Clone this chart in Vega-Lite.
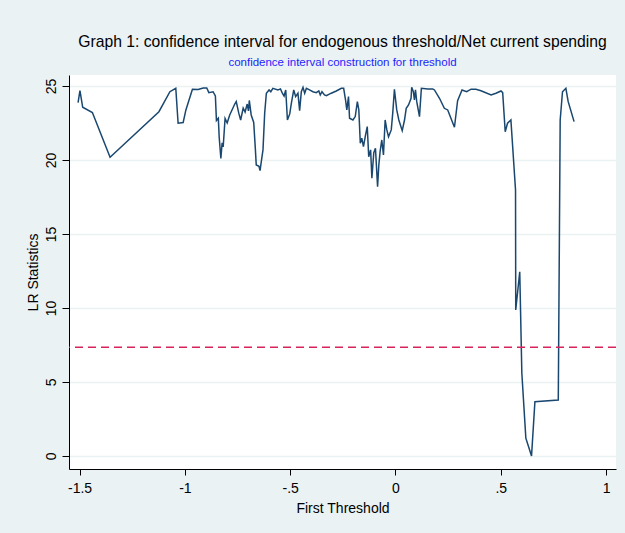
{
  "$schema": "https://vega.github.io/schema/vega-lite/v6.json",
  "width": 547,
  "height": 394,
  "autosize": {"type": "none"},
  "padding": {"left": 69, "top": 75, "right": 9, "bottom": 64},
  "background": "#EAF2F3",
  "config": {
    "view": {"fill": "white", "stroke": null},
    "font": "Liberation Sans",
    "axisY": {"labelAngle": -90, "labelAlign": "center", "labelBaseline": "bottom"}
  },
  "title": {
    "text": "Graph 1: confidence interval for endogenous threshold/Net current spending",
    "subtitle": "confidence interval construction for threshold",
    "fontSize": 15.7,
    "fontWeight": "normal",
    "font": "Liberation Sans",
    "color": "#000000",
    "subtitleColor": "#1E1EFF",
    "subtitleFontSize": 11.5,
    "subtitleFont": "Liberation Sans",
    "anchor": "middle",
    "offset": 6,
    "subtitlePadding": 6
  },
  "datasets": {
    "lr": [
      {"threshold": -1.507, "lr": 23.87}, {"threshold": -1.498, "lr": 24.68}, {"threshold": -1.485, "lr": 23.56},
      {"threshold": -1.439, "lr": 23.2}, {"threshold": -1.355, "lr": 20.18}, {"threshold": -1.123, "lr": 23.26},
      {"threshold": -1.071, "lr": 24.61}, {"threshold": -1.043, "lr": 24.84}, {"threshold": -1.032, "lr": 22.48},
      {"threshold": -1.008, "lr": 22.53}, {"threshold": -0.995, "lr": 23.38}, {"threshold": -0.964, "lr": 24.78},
      {"threshold": -0.937, "lr": 24.76}, {"threshold": -0.913, "lr": 24.86}, {"threshold": -0.896, "lr": 24.86},
      {"threshold": -0.886, "lr": 24.55}, {"threshold": -0.866, "lr": 24.61}, {"threshold": -0.855, "lr": 24.32},
      {"threshold": -0.85, "lr": 22.67}, {"threshold": -0.841, "lr": 22.82}, {"threshold": -0.837, "lr": 21.55},
      {"threshold": -0.829, "lr": 20.11}, {"threshold": -0.823, "lr": 21.15}, {"threshold": -0.818, "lr": 20.88},
      {"threshold": -0.809, "lr": 22.8}, {"threshold": -0.799, "lr": 22.5}, {"threshold": -0.787, "lr": 23.04},
      {"threshold": -0.763, "lr": 23.78}, {"threshold": -0.756, "lr": 23.95}, {"threshold": -0.744, "lr": 23.16},
      {"threshold": -0.735, "lr": 22.7}, {"threshold": -0.723, "lr": 23.51}, {"threshold": -0.714, "lr": 23.24},
      {"threshold": -0.704, "lr": 23.78}, {"threshold": -0.698, "lr": 23.31}, {"threshold": -0.694, "lr": 24.02},
      {"threshold": -0.685, "lr": 23.04}, {"threshold": -0.673, "lr": 22.53}, {"threshold": -0.665, "lr": 20.68},
      {"threshold": -0.661, "lr": 19.66}, {"threshold": -0.648, "lr": 19.57}, {"threshold": -0.643, "lr": 19.28},
      {"threshold": -0.637, "lr": 19.89}, {"threshold": -0.629, "lr": 20.68}, {"threshold": -0.621, "lr": 23.16},
      {"threshold": -0.613, "lr": 24.51}, {"threshold": -0.6, "lr": 24.73}, {"threshold": -0.592, "lr": 24.61},
      {"threshold": -0.582, "lr": 24.84}, {"threshold": -0.558, "lr": 24.73}, {"threshold": -0.546, "lr": 24.8},
      {"threshold": -0.537, "lr": 24.51}, {"threshold": -0.529, "lr": 24.32}, {"threshold": -0.521, "lr": 24.73},
      {"threshold": -0.513, "lr": 22.7}, {"threshold": -0.502, "lr": 23.11}, {"threshold": -0.494, "lr": 23.85},
      {"threshold": -0.483, "lr": 24.73}, {"threshold": -0.474, "lr": 24.28}, {"threshold": -0.463, "lr": 24.51},
      {"threshold": -0.455, "lr": 23.33}, {"threshold": -0.447, "lr": 24.61}, {"threshold": -0.439, "lr": 24.91},
      {"threshold": -0.431, "lr": 24.51}, {"threshold": -0.423, "lr": 24.84}, {"threshold": -0.408, "lr": 24.73},
      {"threshold": -0.392, "lr": 24.61}, {"threshold": -0.376, "lr": 24.55}, {"threshold": -0.364, "lr": 24.66},
      {"threshold": -0.357, "lr": 24.39}, {"threshold": -0.349, "lr": 24.61}, {"threshold": -0.337, "lr": 24.39},
      {"threshold": -0.328, "lr": 24.34}, {"threshold": -0.305, "lr": 24.51}, {"threshold": -0.281, "lr": 24.66},
      {"threshold": -0.257, "lr": 24.84}, {"threshold": -0.246, "lr": 24.84}, {"threshold": -0.237, "lr": 24.05},
      {"threshold": -0.231, "lr": 23.38}, {"threshold": -0.223, "lr": 24.28}, {"threshold": -0.218, "lr": 22.82},
      {"threshold": -0.202, "lr": 22.7}, {"threshold": -0.191, "lr": 22.93}, {"threshold": -0.181, "lr": 23.94},
      {"threshold": -0.174, "lr": 23.38}, {"threshold": -0.167, "lr": 21.13}, {"threshold": -0.16, "lr": 21.47},
      {"threshold": -0.152, "lr": 20.9}, {"threshold": -0.142, "lr": 21.69}, {"threshold": -0.134, "lr": 22.25},
      {"threshold": -0.127, "lr": 20.22}, {"threshold": -0.118, "lr": 20.68}, {"threshold": -0.112, "lr": 18.76},
      {"threshold": -0.103, "lr": 20.49}, {"threshold": -0.095, "lr": 20.79}, {"threshold": -0.085, "lr": 18.2},
      {"threshold": -0.079, "lr": 19.66}, {"threshold": -0.073, "lr": 20.56}, {"threshold": -0.065, "lr": 21.35},
      {"threshold": -0.057, "lr": 20.34}, {"threshold": -0.049, "lr": 22.7}, {"threshold": -0.041, "lr": 22.03},
      {"threshold": -0.033, "lr": 21.57}, {"threshold": -0.02, "lr": 22.03}, {"threshold": -0.013, "lr": 23.16},
      {"threshold": -0.005, "lr": 24.78}, {"threshold": 0.006, "lr": 23.38}, {"threshold": 0.016, "lr": 22.7},
      {"threshold": 0.032, "lr": 21.98}, {"threshold": 0.043, "lr": 22.7}, {"threshold": 0.051, "lr": 23.49},
      {"threshold": 0.062, "lr": 23.72}, {"threshold": 0.074, "lr": 24.17}, {"threshold": 0.077, "lr": 24.91},
      {"threshold": 0.085, "lr": 24.61}, {"threshold": 0.09, "lr": 24.05}, {"threshold": 0.095, "lr": 24.73},
      {"threshold": 0.101, "lr": 23.94}, {"threshold": 0.114, "lr": 22.93}, {"threshold": 0.123, "lr": 24.84},
      {"threshold": 0.153, "lr": 24.8}, {"threshold": 0.177, "lr": 24.8}, {"threshold": 0.185, "lr": 24.73},
      {"threshold": 0.209, "lr": 24.17}, {"threshold": 0.232, "lr": 23.49}, {"threshold": 0.248, "lr": 23.38},
      {"threshold": 0.28, "lr": 22.21}, {"threshold": 0.295, "lr": 24.01}, {"threshold": 0.316, "lr": 24.73},
      {"threshold": 0.338, "lr": 24.61}, {"threshold": 0.359, "lr": 24.78}, {"threshold": 0.382, "lr": 24.78},
      {"threshold": 0.406, "lr": 24.68}, {"threshold": 0.454, "lr": 24.39}, {"threshold": 0.477, "lr": 24.51},
      {"threshold": 0.501, "lr": 24.66}, {"threshold": 0.509, "lr": 24.55}, {"threshold": 0.521, "lr": 21.91},
      {"threshold": 0.532, "lr": 22.48}, {"threshold": 0.548, "lr": 22.7}, {"threshold": 0.57, "lr": 17.97},
      {"threshold": 0.571, "lr": 9.86}, {"threshold": 0.59, "lr": 12.45}, {"threshold": 0.6, "lr": 5.59},
      {"threshold": 0.619, "lr": 1.2}, {"threshold": 0.646, "lr": 0.0}, {"threshold": 0.662, "lr": 3.67},
      {"threshold": 0.773, "lr": 3.78}, {"threshold": 0.782, "lr": 22.7}, {"threshold": 0.793, "lr": 24.61},
      {"threshold": 0.809, "lr": 24.84}, {"threshold": 0.82, "lr": 23.94}, {"threshold": 0.848, "lr": 22.59}
    ]
  },
  "layer": [
    {
      "data": {"name": "lr"},
      "mark": {"type": "line", "color": "#1A476F", "strokeWidth": 1.5},
      "encoding": {
        "x": {
          "field": "threshold",
          "type": "quantitative",
          "scale": {"domain": [-1.55, 1.047], "nice": false, "zero": false},
          "axis": {
            "values": [-1.5, -1, -0.5, 0, 0.5, 1],
            "grid": false,
            "title": "First Threshold",
            "labelExpr": "datum.value == 0 ? '0' : replace(toString(datum.value), '0.', '.')",
            "labelFontSize": 14,
            "labelColor": "#000000",
            "titleFontSize": 14,
            "titleFontWeight": "normal",
            "titleColor": "#000000",
            "domainColor": "#000000",
            "tickColor": "#000000",
            "tickSize": 6,
            "labelPadding": 6,
            "titlePadding": 6
          }
        },
        "y": {
          "field": "lr",
          "type": "quantitative",
          "scale": {"domain": [-0.88, 25.74], "nice": false, "zero": false},
          "axis": {
            "values": [0, 5, 10, 15, 20, 25],
            "grid": true,
            "gridColor": "#EAF2F3",
            "gridWidth": 1.5,
            "title": "LR Statistics",
            "labelFontSize": 14,
            "labelColor": "#000000",
            "titleFontSize": 14,
            "titleFontWeight": "normal",
            "titleColor": "#000000",
            "domainColor": "#000000",
            "tickColor": "#000000",
            "tickSize": 7,
            "labelPadding": 4,
            "titlePadding": 4
          }
        }
      }
    },
    {
      "data": {"values": [{"critical": 7.35}]},
      "mark": {"type": "rule", "color": "#D8245A", "strokeDash": [8, 5], "strokeWidth": 1.5},
      "encoding": {"y": {"field": "critical", "type": "quantitative"}}
    }
  ]
}
